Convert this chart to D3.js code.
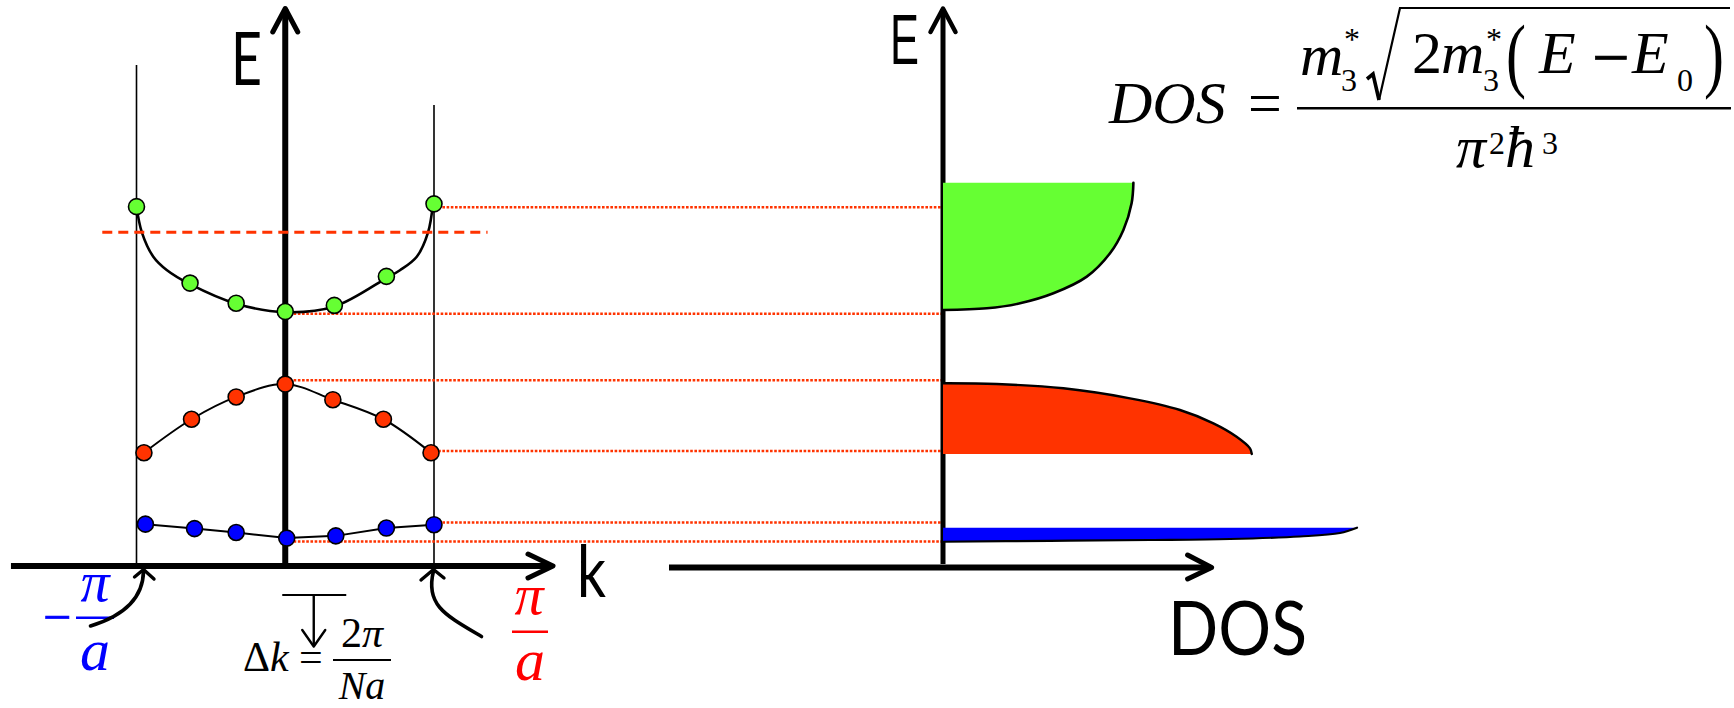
<!DOCTYPE html>
<html>
<head>
<meta charset="utf-8">
<script src="https://cdn.jsdelivr.net/npm/d3@7"></script>
<style>
  html, body { margin: 0; padding: 0; background: #fff; }
  svg { display: block; }
</style>
</head>
<body>
<svg id="chart" width="1734" height="708"></svg>
<script>
// ---- allowed states of each band: k in units of pi/a, E in arbitrary units ----
const greenK = [-1, -0.64, -0.33, 0, 0.33, 0.68, 1];
const greenE = [6.44, 5.07, 4.71, 4.56, 4.67, 5.19, 6.49];
const redK   = [-0.95, -0.63, -0.33, 0, 0.32, 0.66, 0.98];
const redE   = [2.03, 2.63, 3.03, 3.26, 2.98, 2.63, 2.03];
const blueK  = [-0.94, -0.61, -0.33, 0.01, 0.34, 0.68, 1];
const blueE  = [0.75, 0.67, 0.60, 0.50, 0.54, 0.68, 0.74];

// ---- continuous dispersion of the upper band (steep near the zone edges) ----
const greenLineK = [-1, -0.964, -0.887, -0.797, -0.64, -0.33, 0, 0.33, 0.68, 0.771, 0.884, 0.96, 0.993];
const greenLineE = [6.44, 5.98, 5.543, 5.305, 5.05, 4.70, 4.55, 4.65, 5.16, 5.30, 5.543, 5.98, 6.49];

// ---- density of states profiles (E, DOS) for each band ----
const greenDosE = [4.588, 4.618, 4.708, 4.887, 5.185, 5.604, 6.022, 6.500, 6.869];
const greenDos  = [0, 0.219, 0.385, 0.552, 0.719, 0.835, 0.902, 0.943, 0.952];
const redDosE   = [2.007, 2.109, 2.317, 2.557, 2.796, 3.005, 3.185, 3.262, 3.274];
const redDos    = [1.544, 1.535, 1.468, 1.352, 1.185, 0.935, 0.602, 0.268, 0];
const blueDosE  = [0.435, 0.452, 0.466, 0.484, 0.529, 0.591, 0.686];
const blueDos   = [0, 0.535, 1.035, 1.435, 1.785, 1.985, 2.07];

// ---- band-edge guide levels and where they leave the band diagram ----
const levelE = [6.43, 4.52, 3.33, 2.06, 0.78, 0.44];
const levelK = [1, 0, 0, 1, 1, 0];

// ---- dashed reference energy ----
const dashE = 5.98;
const dashK = [-1.23, 1.36];

const GREEN = "#66FF33", RED = "#FF3300", BLUE = "#0000FF";

// ---- scales ----
const xK = d3.scaleLinear().domain([-1, 1]).range([136.5, 434]);
const yE = d3.scaleLinear().domain([0, 10]).range([566, 8]);
const xD = d3.scaleLinear().domain([0, 1]).range([943, 1143]);

const svg = d3.select("#chart");
const serifName = "Liberation Serif";
const serif = `'${serifName}', 'Times New Roman', serif`;
const sans = "Lato, 'Open Sans', sans-serif";
const smooth = d3.curveCatmullRom.alpha(0.5);

function chevron(g, tip, a, b, w) {
  g.append("path")
    .attr("d", `M${a[0]},${a[1]} L${tip[0]},${tip[1]} L${b[0]},${b[1]}`)
    .attr("fill", "none").attr("stroke", "#000").attr("stroke-width", w)
    .attr("stroke-linecap", "round").attr("stroke-linejoin", "round");
}
// horizontal math rule (fraction bars)
function rule(g, x0, x1, y, color, w) {
  g.append("line").attr("x1", x0).attr("x2", x1).attr("y1", y).attr("y2", y)
    .attr("stroke", color).attr("stroke-width", w);
}
// Places a minus sign so that its ink spans [x0, x1] and is centred on yc.
const measureCtx = document.createElement("canvas").getContext("2d");
function minusSign(g, x0, x1, yc, color) {
  const probe = 100;
  measureCtx.font = `${probe}px '${serifName}'`;
  const m = measureCtx.measureText("\u2212");
  const inkW = m.actualBoundingBoxLeft + m.actualBoundingBoxRight;
  const size = probe * (x1 - x0) / inkW;
  const k = size / probe;
  const mid = (m.actualBoundingBoxAscent - m.actualBoundingBoxDescent) / 2 * k;
  g.append("text")
    .attr("x", x0 + m.actualBoundingBoxLeft * k)
    .attr("y", yc + mid)
    .attr("font-family", serif).attr("font-size", size)
    .attr("font-style", "normal")
    .attr("fill", color).attr("stroke", color).attr("stroke-width", 0.7)
    .text("\u2212");
}

// ---- Brillouin zone boundaries ----
svg.append("line").attr("x1", xK(-1)).attr("x2", xK(-1))
  .attr("y1", yE(8.98)).attr("y2", yE(0))
  .attr("stroke", "#000").attr("stroke-width", 1.6);
svg.append("line").attr("x1", xK(1)).attr("x2", xK(1))
  .attr("y1", yE(8.26)).attr("y2", yE(0))
  .attr("stroke", "#000").attr("stroke-width", 1.6);

// ---- dotted guides from band extremes to the DOS axis ----
svg.append("g").selectAll("line").data(levelE).join("line")
  .attr("x1", (d, i) => xK(levelK[i])).attr("x2", xD(0) - 2)
  .attr("y1", d => yE(d)).attr("y2", d => yE(d))
  .attr("stroke", RED).attr("stroke-width", 2.6)
  .attr("stroke-dasharray", "2.6,1.6");

// ---- E(k) axes ----
const axes = svg.append("g");
axes.append("line").attr("x1", xK(0)).attr("x2", xK(0))
  .attr("y1", yE(0)).attr("y2", yE(10) + 1)
  .attr("stroke", "#000").attr("stroke-width", 6);
chevron(axes, [xK(0), yE(10) + 0.5], [xK(0) - 12.5, yE(10) + 24], [xK(0) + 12.5, yE(10) + 24], 5);
axes.append("line").attr("x1", xK(-1.844)).attr("x2", xK(1.80) - 1)
  .attr("y1", yE(0)).attr("y2", yE(0))
  .attr("stroke", "#000").attr("stroke-width", 6);
chevron(axes, [xK(1.80), yE(0)], [xK(1.80) - 25, yE(0) - 12], [xK(1.80) - 25, yE(0) + 12], 5);

// ---- DOS axes ----
axes.append("line").attr("x1", xD(0)).attr("x2", xD(0))
  .attr("y1", yE(0) - 2).attr("y2", yE(10) + 1)
  .attr("stroke", "#000").attr("stroke-width", 5);
chevron(axes, [xD(0), yE(10) + 0.5], [xD(0) - 12.5, yE(10) + 24], [xD(0) + 12.5, yE(10) + 24], 4.5);
axes.append("line").attr("x1", xD(-1.37)).attr("x2", xD(1.343) - 1)
  .attr("y1", yE(0) + 1.5).attr("y2", yE(0) + 1.5)
  .attr("stroke", "#000").attr("stroke-width", 6);
chevron(axes, [xD(1.343), yE(0) + 1.5], [xD(1.343) - 24, yE(0) - 11], [xD(1.343) - 24, yE(0) + 13], 5);

// ---- DOS fills with their outlined edges ----
const dosSets = [
  { E: greenDosE, D: greenDos, c: GREEN, w: 2.6 },
  { E: redDosE,   D: redDos,   c: RED,   w: 2.4 },
  { E: blueDosE,  D: blueDos,  c: BLUE,  w: 2.2 }
];
const dosG = svg.append("g");
dosSets.forEach(s => {
  const pts = s.E.map((e, i) => ({ e, d: s.D[i] }));
  const area = d3.area().curve(smooth)
    .y(p => yE(p.e)).x0(xD(0)).x1(p => xD(p.d));
  const edge = d3.line().curve(smooth)
    .y(p => yE(p.e)).x(p => xD(p.d));
  dosG.append("path").attr("d", area(pts)).attr("fill", s.c);
  dosG.append("path").attr("d", edge(pts)).attr("fill", "none")
    .attr("stroke", "#000").attr("stroke-width", s.w).attr("stroke-linecap", "round");
});

// ---- band curves ----
const bandLines = [
  { K: greenLineK, E: greenLineE, curve: smooth, w: 2.6 },
  { K: redK, E: redE, curve: smooth, w: 2 },
  { K: blueK, E: blueE, curve: d3.curveLinear, w: 2 }
];
const bandG = svg.append("g");
bandLines.forEach(b => {
  const pts = b.K.map((k, i) => [xK(k), yE(b.E[i])]);
  bandG.append("path").attr("d", d3.line().curve(b.curve)(pts))
    .attr("fill", "none").attr("stroke", "#000").attr("stroke-width", b.w);
});

// ---- dashed reference energy ----
svg.append("line").attr("x1", xK(dashK[0])).attr("x2", xK(dashK[1]))
  .attr("y1", yE(dashE)).attr("y2", yE(dashE))
  .attr("stroke", RED).attr("stroke-width", 3)
  .attr("stroke-dasharray", "10,6");

// ---- allowed k states ----
const bandDots = [
  { K: greenK, E: greenE, c: GREEN },
  { K: redK, E: redE, c: RED },
  { K: blueK, E: blueE, c: BLUE }
];
bandDots.forEach(b => {
  bandG.append("g").selectAll("circle").data(b.K).join("circle")
    .attr("cx", d => xK(d)).attr("cy", (d, i) => yE(b.E[i]))
    .attr("r", 8).attr("fill", b.c)
    .attr("stroke", "#000").attr("stroke-width", 1.6);
});

// ---- axis titles ----
svg.append("text").attr("x", 231).attr("y", 85).text("E")
  .attr("font-family", sans).attr("font-size", 74)
  .attr("textLength", 31).attr("lengthAdjust", "spacingAndGlyphs");
svg.append("text").attr("x", 890).attr("y", 63.5).text("E")
  .attr("font-family", "'Liberation Sans', Arial, sans-serif").attr("font-size", 70)
  .attr("textLength", 29).attr("lengthAdjust", "spacingAndGlyphs");
svg.append("text").attr("x", 577).attr("y", 597).text("k")
  .attr("font-family", sans).attr("font-size", 72)
  .attr("textLength", 29).attr("lengthAdjust", "spacingAndGlyphs");
svg.append("text").attr("x", 1168).attr("y", 655).text("DOS")
  .attr("font-family", sans).attr("font-size", 75)
  .attr("textLength", 139).attr("lengthAdjust", "spacingAndGlyphs");

// ---- zone-edge labels -pi/a and pi/a ----
const ann = svg.append("g").attr("font-family", serif);
const xl = xK(-1), xr = xK(1), y0 = yE(0);
minusSign(ann, 45, 69, 617.7, BLUE);
ann.append("text").attr("x", 95).attr("y", 601).text("\u03C0")
  .attr("font-size", 58).attr("font-style", "italic").attr("text-anchor", "middle").attr("fill", BLUE);
rule(ann, 76, 114, 617.7, BLUE, 2.6);
ann.append("text").attr("x", 95).attr("y", 670).text("a")
  .attr("font-size", 60).attr("font-style", "italic").attr("text-anchor", "middle").attr("fill", BLUE);

ann.append("text").attr("x", 529).attr("y", 614).text("\u03C0")
  .attr("font-size", 58).attr("font-style", "italic").attr("text-anchor", "middle").attr("fill", "#FF0000");
rule(ann, 512, 548, 631.7, "#FF0000", 2.6);
ann.append("text").attr("x", 530).attr("y", 680).text("a")
  .attr("font-size", 60).attr("font-style", "italic").attr("text-anchor", "middle").attr("fill", "#FF0000");

// curved pointers to the zone edges
ann.append("path").attr("d", `M${xl - 46},${y0 + 60} Q${xl + 6.5},${y0 + 44} ${xl + 7},${y0 + 5}`)
  .attr("fill", "none").attr("stroke", "#000").attr("stroke-width", 3.6).attr("stroke-linecap", "round");
chevron(ann, [xl + 7, y0 + 3.5], [xl - 2, y0 + 11], [xl + 17.5, y0 + 13], 3.4);
ann.append("path").attr("d", `M${xr + 47.5},${y0 + 70.5} C${xr + 11},${y0 + 49} ${xr - 9},${y0 + 39} ${xr - 0.5},${y0 + 5}`)
  .attr("fill", "none").attr("stroke", "#000").attr("stroke-width", 3.6).attr("stroke-linecap", "round");
chevron(ann, [xr - 0.5, y0 + 3.5], [xr - 13, y0 + 14], [xr + 10, y0 + 12], 3.4);

// ---- k spacing annotation ----
const xc = xK(0);
rule(ann, xc - 3, xc + 61, 595, "#000", 2);
ann.append("line").attr("x1", xc + 28.5).attr("x2", xc + 28.5).attr("y1", 595).attr("y2", 645)
  .attr("stroke", "#000").attr("stroke-width", 2.4);
chevron(ann, [xc + 28.5, 646.5], [xc + 17, 630], [xc + 40, 630], 2.4);
const dk = ann.append("text").attr("x", 243).attr("y", 671).attr("font-size", 42);
dk.append("tspan").text("\u0394");
dk.append("tspan").attr("font-style", "italic").text("k");
ann.append("text").attr("x", 299).attr("y", 671).attr("font-size", 42).text("=");
const num = ann.append("text").attr("x", 362).attr("y", 647).attr("font-size", 42).attr("text-anchor", "middle");
num.append("tspan").text("2");
num.append("tspan").attr("font-style", "italic").text("\u03C0");
rule(ann, 333, 391, 660, "#000", 2);
ann.append("text").attr("x", 362).attr("y", 699).attr("font-size", 40)
  .attr("font-style", "italic").attr("text-anchor", "middle").text("Na");

// ---- DOS formula ----
const f = svg.append("g").attr("font-family", serif).attr("fill", "#000");
function t(x, y, s, size, italic) {
  return f.append("text").attr("x", x).attr("y", y).attr("font-size", size)
    .attr("font-style", italic ? "italic" : "normal").text(s);
}
function paren(x, s) {
  f.append("text").attr("transform", `translate(${x},81.6) scale(1,1.38)`)
    .attr("font-size", 60).text(s);
}
t(1109, 123, "DOS", 60, true);
t(1248, 123, "=", 60, false);
rule(f, 1297, 1731, 108.3, "#000", 2.6);
t(1300, 75, "m", 60, true);
t(1344, 50, "*", 32, false);
t(1341, 91, "3", 32, false);
f.append("path").attr("d", "M1367,79 L1373,74 L1379,100")
  .attr("fill", "none").attr("stroke", "#000").attr("stroke-width", 3.6).attr("stroke-linejoin", "miter");
f.append("path").attr("d", "M1379,100 L1400,8 L1730,8")
  .attr("fill", "none").attr("stroke", "#000").attr("stroke-width", 2.2);
t(1412, 73, "2", 60, false);
t(1441, 73, "m", 60, true);
t(1486, 50, "*", 32, false);
t(1483, 91, "3", 32, false);
paren(1506, "(");
t(1539, 73, "E", 60, true);
minusSign(f, 1595, 1627, 57.7, "#000");
t(1632, 73, "E", 60, true);
t(1677, 91, "0", 32, false);
paren(1704, ")");
t(1456, 167, "\u03C0", 60, true);
t(1489, 154, "2", 32, false);
t(1505, 167, "\u0127", 60, true);
t(1542, 154, "3", 32, false);
</script>
</body>
</html>
